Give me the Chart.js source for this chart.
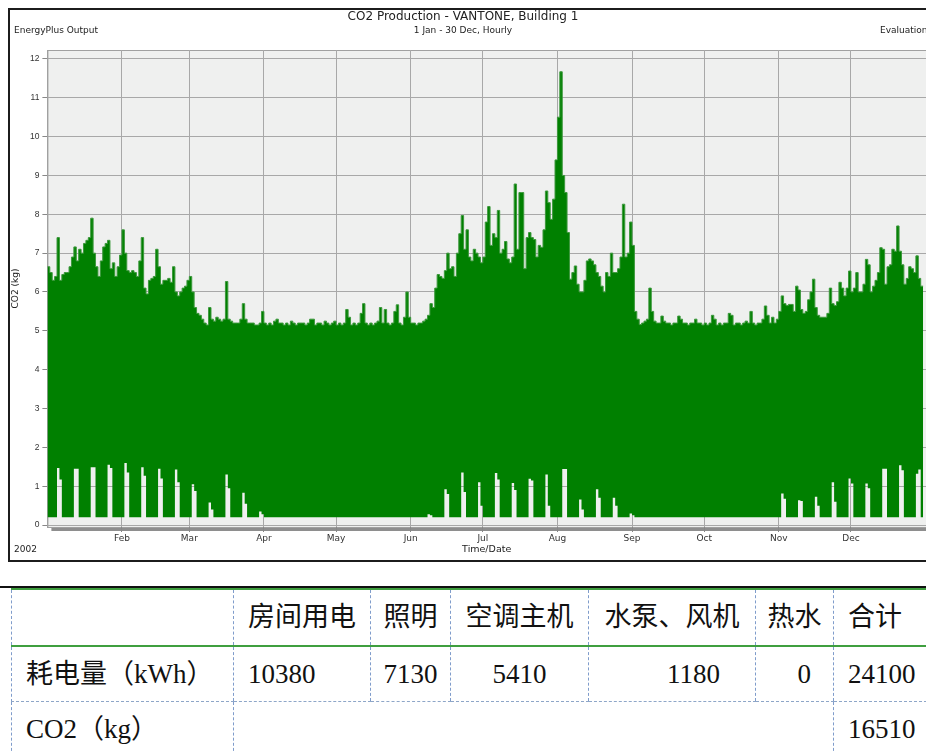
<!DOCTYPE html>
<html>
<head>
<meta charset="utf-8">
<script src="https://cdn.jsdelivr.net/npm/chart.js@4.4.1/dist/chart.umd.min.js"></script>
<style>
body { margin:0; background:#fff; width:926px; height:751px; overflow:hidden; position:relative; }
#chartBox { position:absolute; left:0; top:0; width:926px; height:566px; }
#tableBox { position:absolute; left:0; top:586px; width:926px; height:165px; overflow:hidden; border-top:2px solid #111; }
#tableBox table { border-collapse:collapse; table-layout:fixed; margin-left:11px; width:1000px;
  font-family:"Liberation Serif","Noto Sans CJK SC",serif; font-size:27px; color:#111; }
#tableBox td { padding:0; text-align:center; vertical-align:middle; border-left:1px dashed #7f9ccb; white-space:nowrap; line-height:1; }
#tableBox tr.head td { height:55px; border-top:2px solid #3f9f3f; border-bottom:2px solid #3f9f3f; }
#tableBox tr.mid td { height:54px; border-bottom:1px dashed #8ea6c8; }
#tableBox tr.last td { height:54px; }
#tableBox td.l { text-align:left; padding-left:14px; }
#tableBox td.r1 { text-align:right; padding-right:35px; }
#tableBox td.r2 { text-align:right; padding-right:22px; }
</style>
</head>
<body>
<div id="chartBox"><canvas id="co2" width="926" height="566"></canvas></div>
<div id="tableBox">
<table>
<colgroup><col style="width:222px"><col style="width:137px"><col style="width:80px"><col style="width:138px"><col style="width:167px"><col style="width:78px"><col style="width:178px"></colgroup>
<tr class="head"><td></td><td>房间用电</td><td>照明</td><td>空调主机</td><td>水泵、风机</td><td>热水</td><td class="l">合计</td></tr>
<tr class="mid"><td class="l">耗电量（kWh）</td><td class="l">10380</td><td>7130</td><td>5410</td><td class="r1">1180</td><td class="r2">0</td><td class="l">24100</td></tr>
<tr class="last"><td class="l">CO2（kg）</td><td colspan="5"></td><td class="l">16510</td></tr>
</table>
</div>
<script>
// daily peak of the hourly CO2 curve (kg)
var janMax = [6.65,6.5,6.3,6.4,7.4,6.3,6.45,6.5,6.5,6.65,6.9,7.16,6.8,7.1,7.0,7.25,7.33,7.4,7.9,7.0,6.65,6.4,6.8,7.16,7.25,7.33,6.6,6.75,6.4,6.65,6.95];
var febMax = [7.6,7.0,6.55,6.5,6.55,6.5,6.4,6.8,7.4,6.1,5.95,6.3,6.35,6.4,7.1,6.65,6.2,6.3,6.3,6.35,6.25,6.65,6.0,5.9,6.0,6.1,6.15,6.3];
var marMax = [6.4,6.0,5.6,5.45,5.4,5.3,5.2,5.15,5.6,5.3,5.25,5.35,5.3,5.25,5.3,6.27,5.3,5.25,5.2,5.2,5.2,5.3,5.7,5.3,5.2,5.2,5.2,5.15,5.15,5.2,5.5];
var aprMax = [5.2,5.15,5.2,5.15,5.25,5.3,5.2,5.2,5.15,5.2,5.15,5.25,5.2,5.15,5.2,5.2,5.2,5.15,5.2,5.3,5.3,5.15,5.2,5.2,5.15,5.25,5.2,5.15,5.2,5.25];
var mayMax = [5.15,5.2,5.15,5.2,5.55,5.35,5.15,5.2,5.15,5.2,5.45,5.7,5.2,5.15,5.2,5.15,5.2,5.25,5.6,5.2,5.55,5.2,5.15,5.2,5.5,5.67,5.2,5.15,5.35,6.0,5.35];
var junMax = [5.2,5.2,5.15,5.2,5.2,5.25,5.3,5.4,5.7,5.6,6.1,6.45,6.4,6.35,6.55,7.0,6.6,6.65,6.4,7.0,7.5,7.97,7.1,7.6,6.9,6.8,7.1,7.0,6.9,6.75];
var julMax = [6.9,7.8,8.2,7.2,7.5,7.4,8.1,7.0,7.1,7.3,6.85,6.75,6.9,8.78,7.1,8.56,8.56,6.6,7.4,7.53,7.4,7.35,6.9,7.2,7.15,7.6,8.6,8.3,7.87,8.39,9.4];
var augMax = [10.5,11.67,9.0,8.56,7.53,6.33,6.5,6.67,6.2,6.0,6.0,6.3,6.8,6.85,6.8,6.7,6.5,6.4,6.15,6.0,6.5,6.4,7.0,6.5,6.5,6.6,6.9,8.26,6.9,7.0,7.8];
var sepMax = [7.2,5.5,5.3,5.16,5.2,5.25,5.3,6.1,5.5,5.25,5.2,5.2,5.38,5.25,5.2,5.2,5.15,5.2,5.2,5.38,5.3,5.2,5.2,5.15,5.2,5.2,5.3,5.2,5.2,5.15];
var octMax = [5.2,5.15,5.2,5.4,5.3,5.15,5.2,5.15,5.2,5.2,5.45,5.4,5.15,5.2,5.2,5.15,5.2,5.25,5.2,5.5,5.2,5.15,5.2,5.2,5.3,5.64,5.4,5.2,5.35,5.2,5.3];
var novMax = [5.5,5.9,5.7,5.65,5.68,5.68,5.5,6.15,6.05,5.55,5.45,5.5,5.8,6.0,6.33,5.6,5.4,5.35,5.35,5.35,5.45,6.1,5.7,5.65,5.75,6.25,6.1,5.9,6.1,6.54];
var decMax = [6.0,6.1,6.5,6.0,6.0,6.2,6.84,6.7,6.0,6.15,6.3,6.5,7.14,7.1,6.2,6.65,6.7,7.1,7.05,7.7,7.05,6.7,6.2,6.35,6.65,6.6,6.5,6.93,6.35,6.15];

// night base load and the weekend lows (Saturday / Sunday of each week)
var baseLoad = 0.2;
var firstSaturday = 4; // 5 Jan 2002
var satLow = [1.47,1.45,1.49,1.55,1.6,1.49,1.45,1.43,1.05,0.58,1.3,0.83,0.35,
  0.2,0.2,0.2,0.2,0.2,0.2,0.2,0.2,0.2,
  0.28,0.92,1.35,1.1,1.34,1.08,1.19,1.3,1.44,0.66,0.92,0.7,0.3,
  0.2,0.2,0.2,0.2,0.2,0.2,0.2,0.2,
  0.81,0.64,0.73,1.1,1.2,1.07,1.45,1.54,1.32];
var sunLow = [1.17,1.45,1.49,1.47,1.35,1.27,1.2,1.1,0.88,0.4,0.95,0.55,0.28,
  0.2,0.2,0.2,0.2,0.2,0.2,0.2,0.2,0.2,
  0.25,0.8,0.85,0.5,1.17,0.9,1.15,0.5,1.44,0.4,0.7,0.5,0.25,
  0.2,0.2,0.2,0.2,0.2,0.2,0.2,0.2,
  0.68,0.62,0.5,0.6,1.07,0.95,1.45,1.41,1.43];

var monthLabels = ['Feb','Mar','Apr','May','Jun','Jul','Aug','Sep','Oct','Nov','Dec'];
var monthStarts = [31,59,90,120,151,181,212,243,273,304,334];
var yTicks = [0,1,2,3,4,5,6,7,8,9,10,11,12];

var dailyMax = [].concat(janMax, febMax, marMax, aprMax, mayMax, junMax, julMax, augMax, sepMax, octMax, novMax, decMax);

var highPts = dailyMax.map(function(v, d) { return { x: d, y: v }; });
highPts.push({ x: dailyMax.length, y: dailyMax[dailyMax.length - 1] });

var lowPts = dailyMax.map(function(v, d) {
    var k = d - firstSaturday;
    var lo = baseLoad;
    if (k >= 0 && k % 7 === 0) lo = satLow[k / 7];
    else if (k >= 1 && (k - 1) % 7 === 0) lo = sunLow[(k - 1) / 7];
    return { x: d, y: lo };
});
lowPts.push({ x: dailyMax.length, y: baseLoad });

var labelFont = { family: 'DejaVu Sans', size: 9 };
var tickFont = { family: 'Liberation Sans', size: 8.5 };
var gridCol = '#a8a8a8';

var framePlugin = {
    id: 'frame',
    beforeDraw: function(chart) {
        var ctx = chart.ctx, a = chart.chartArea;
        ctx.save();
        ctx.fillStyle = '#ffffff';
        ctx.fillRect(0, 0, chart.width, chart.height);
        ctx.fillStyle = '#8e8e8e';
        ctx.fillRect(a.left + 4, a.bottom, a.right - a.left, 4);
        ctx.fillStyle = '#eff0ef';
        ctx.fillRect(a.left, a.top, a.right - a.left, a.bottom - a.top);
        ctx.strokeStyle = '#a0a0a0';
        ctx.lineWidth = 1;
        ctx.strokeRect(a.left + 0.5, a.top + 0.5, a.right - a.left + 5, a.bottom - a.top);
        ctx.strokeStyle = '#1c1c1c';
        ctx.lineWidth = 2;
        ctx.strokeRect(9, 9, chart.width + 10, 552);
        ctx.font = '9px "DejaVu Sans"';
        ctx.fillStyle = '#222';
        ctx.textBaseline = 'middle';
        ctx.fillText('EnergyPlus Output', 14, 31);
        ctx.fillText('Evaluation', 880, 31);
        ctx.fillText('2002', 14, 550);
        ctx.restore();
    }
};

new Chart(document.getElementById('co2'), {
    type: 'line',
    data: {
        datasets: [{
            data: highPts,
            stepped: true,
            fill: '+1',
            backgroundColor: '#008000',
            borderColor: '#3c983c',
            borderWidth: 1,
            pointRadius: 0
        }, {
            data: lowPts,
            stepped: true,
            fill: false,
            borderWidth: 0,
            borderColor: 'rgba(0,0,0,0)',
            pointRadius: 0
        }]
    },
    options: {
        responsive: false,
        animation: false,
        events: [],
        layout: { padding: 0 },
        plugins: {
            legend: { display: false },
            tooltip: { enabled: false },
            title: {
                display: true,
                text: 'CO2 Production - VANTONE, Building 1',
                font: { family: 'DejaVu Sans', size: 12, weight: 'normal' },
                color: '#222',
                padding: { top: 9.8, bottom: 1 }
            },
            subtitle: {
                display: true,
                text: '1 Jan - 30 Dec, Hourly',
                font: labelFont,
                color: '#222',
                padding: { top: 0.4, bottom: 13.6 }
            }
        },
        scales: {
            x: {
                type: 'linear',
                min: 0,
                max: 365.2,
                afterFit: function(s) { s.height = 39; },
                afterBuildTicks: function(s) { s.ticks = monthStarts.map(function(v) { return { value: v }; }); },
                ticks: {
                    autoSkip: false,
                    maxRotation: 0,
                    padding: 1,
                    font: labelFont,
                    color: '#333',
                    callback: function(v, i) { return monthLabels[i]; }
                },
                grid: { color: gridCol, tickLength: 5, tickColor: '#888' },
                border: { display: false },
                title: { display: true, text: 'Time/Date', font: { family: 'DejaVu Sans', size: 9.5 }, color: '#222', padding: { top: 0, bottom: 10.3 } }
            },
            y: {
                min: -0.05,
                max: 12.23,
                afterFit: function(s) { s.width = 47.4; },
                afterBuildTicks: function(s) { s.ticks = yTicks.map(function(v) { return { value: v }; }); },
                ticks: { padding: 3, font: tickFont, color: '#333' },
                grid: { color: gridCol, tickLength: 5, tickColor: '#888' },
                border: { display: true, color: '#a0a0a0' },
                title: { display: true, text: 'CO2 (kg)', font: labelFont, color: '#222', padding: { top: 10.6, bottom: 0 } }
            }
        }
    },
    plugins: [framePlugin]
});
</script>
</body>
</html>
